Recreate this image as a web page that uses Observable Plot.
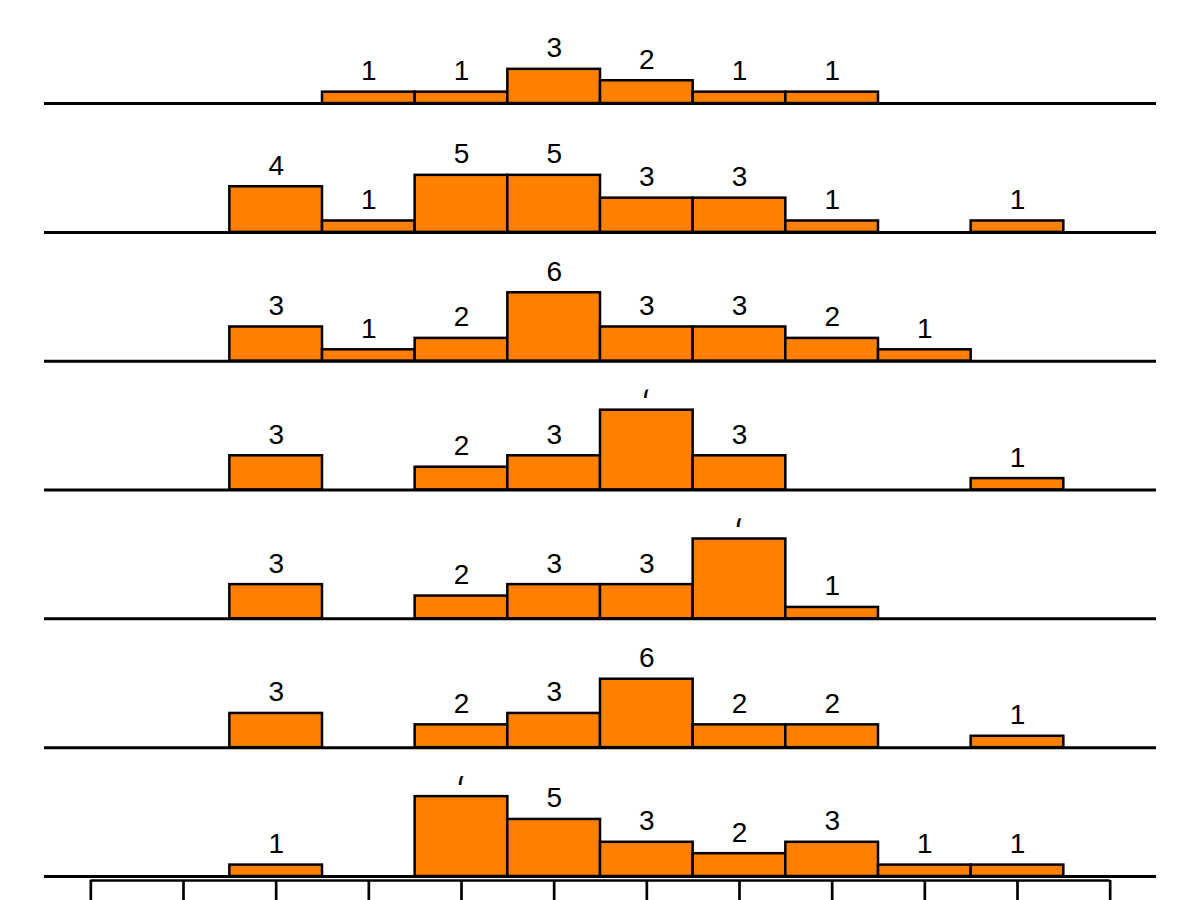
<!DOCTYPE html>
<html>
<head>
<meta charset="utf-8">
<script src="https://cdn.jsdelivr.net/npm/d3@7"></script>
<script src="https://cdn.jsdelivr.net/npm/@observablehq/plot@0.6"></script>
<style>
  body { margin: 0; background: #ffffff; }
  svg { display: block; }
</style>
</head>
<body>
<div id="chart"></div>
<script>
// Bin positions (tick values, unlabeled in the reference)
const bins = [0, 1, 2, 3, 4, 5, 6, 7, 8, 9, 10, 11];
// Panels from top to bottom
const panels = ["P1", "P2", "P3", "P4", "P5", "P6", "P7"];
// Counts per bin for each panel
const countsP1 = [0, 0, 0, 1, 1, 3, 2, 1, 1, 0, 0, 0];
const countsP2 = [0, 0, 4, 1, 5, 5, 3, 3, 1, 0, 1, 0];
const countsP3 = [0, 0, 3, 1, 2, 6, 3, 3, 2, 1, 0, 0];
const countsP4 = [0, 0, 3, 0, 2, 3, 7, 3, 0, 0, 1, 0];
const countsP5 = [0, 0, 3, 0, 2, 3, 3, 7, 1, 0, 0, 0];
const countsP6 = [0, 0, 3, 0, 2, 3, 6, 2, 2, 0, 1, 0];
const countsP7 = [0, 0, 1, 0, 7, 5, 3, 2, 3, 1, 1, 0];
const allCounts = [countsP1, countsP2, countsP3, countsP4, countsP5, countsP6, countsP7];

const rows = [];
panels.forEach((p, i) => {
  bins.forEach((b, j) => {
    const c = allCounts[i][j];
    if (c > 0) rows.push({panel: p, bin: b, count: c});
  });
});

const lastPanel = panels[panels.length - 1];

const chart = Plot.plot({
  width: 1200,
  height: 900,
  marginTop: 3,
  marginBottom: 24,
  marginLeft: 44,
  marginRight: 44,
  style: {background: "#ffffff", overflow: "visible"},
  x: {domain: [-0.5, 11.5], axis: null, label: null},
  y: {domain: [0, 8.77], axis: null, label: null},
  fy: {domain: panels, axis: null, label: null, paddingInner: 0.2233, paddingOuter: 0, round: false},
  marks: [
    Plot.rectY(rows, {
      fy: "panel",
      x1: d => d.bin - 0.5,
      x2: d => d.bin + 0.5,
      y1: 0,
      y2: "count",
      fill: "#FF7F00",
      stroke: "#000000",
      strokeWidth: 2.5
    }),
    Plot.ruleY([0], {stroke: "#000000", strokeWidth: 3}),
    Plot.text(rows, {
      fy: "panel",
      x: "bin",
      y: "count",
      text: d => String(d.count),
      lineAnchor: "bottom",
      dy: -12,
      fontSize: 28,
      fontFamily: "Liberation Sans, Arial, sans-serif",
      fill: "#000000",
      clip: true
    }),
    Plot.ruleY([lastPanel], {
      fy: d => d,
      y: 0,
      x1: bins[0],
      x2: bins[bins.length - 1],
      dy: 4,
      stroke: "#000000",
      strokeWidth: 2.7
    }),
    Plot.axisX(bins, {
      tickSize: 30,
      tickFormat: () => "",
      label: null,
      stroke: "#000000",
      strokeWidth: 2.7,
      dy: 4
    })
  ]
});

document.getElementById("chart").appendChild(chart);
</script>
</body>
</html>
